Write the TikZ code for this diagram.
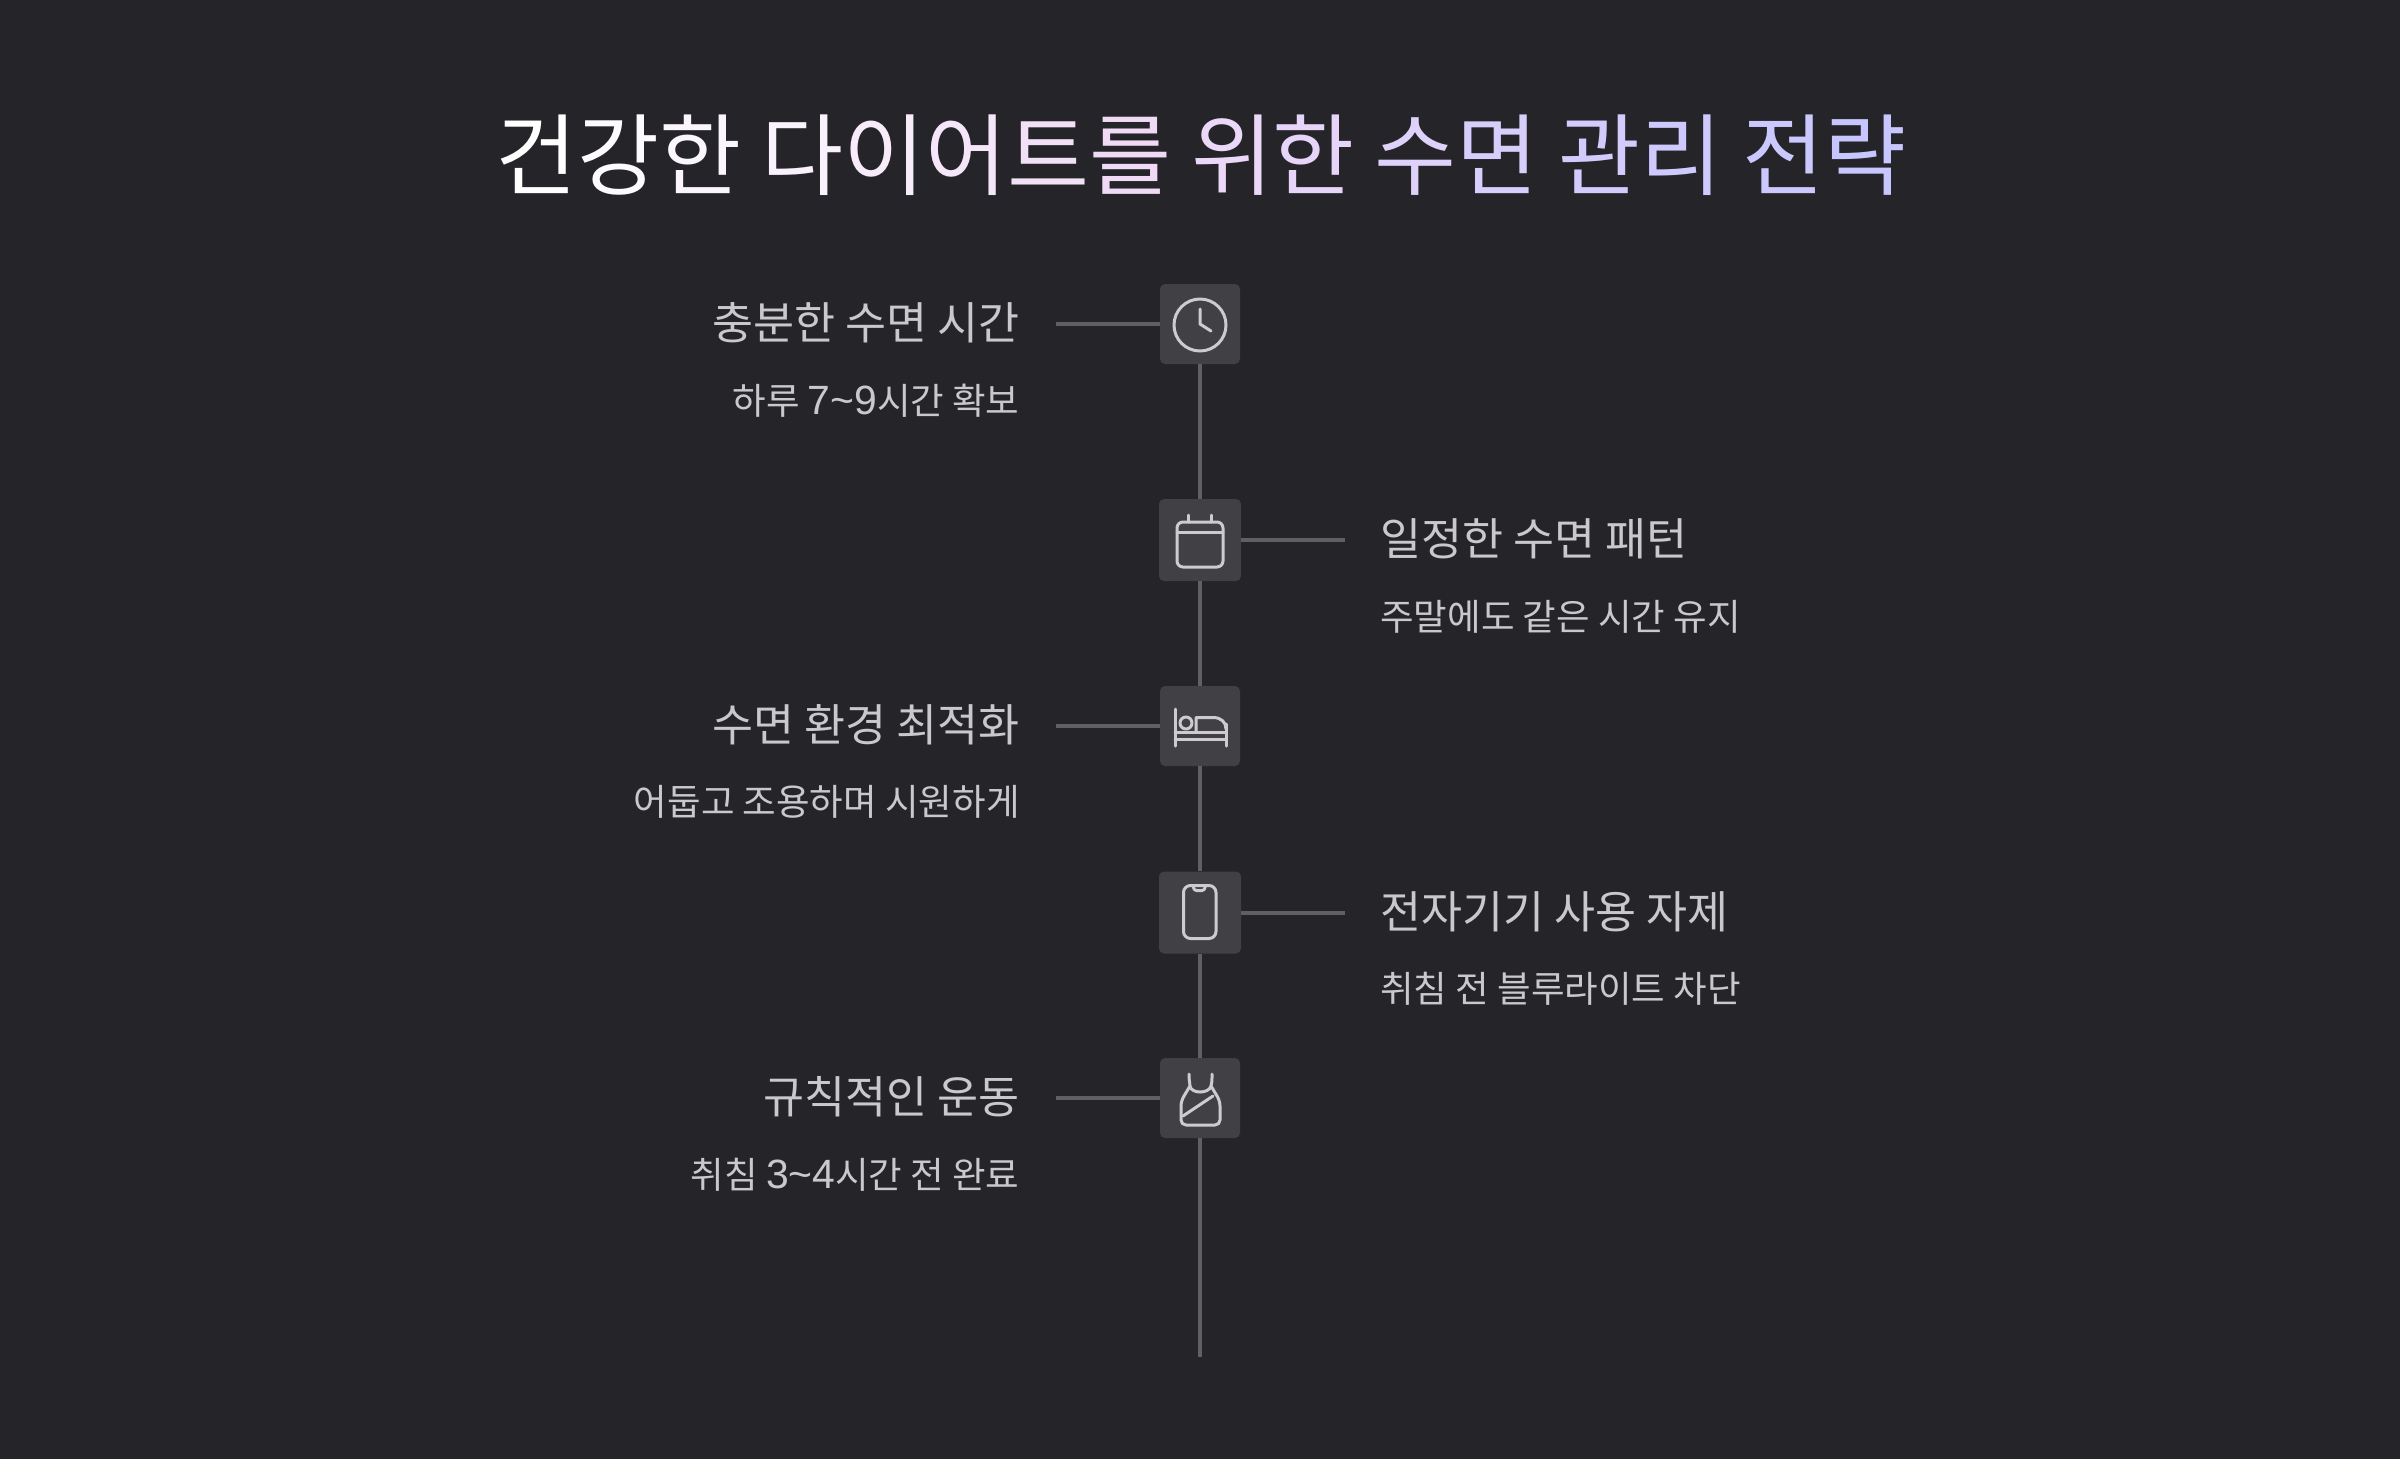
\documentclass[tikz,border=0pt]{standalone}
\usepackage{fontspec}
\setmainfont{Noto Sans CJK KR}
\newfontfamily\digitfont[Scale=1.12]{Liberation Sans}
\usepackage{xcolor}
\definecolor{bgc}{HTML}{242429}
\definecolor{boxc}{HTML}{404045}
\definecolor{linec}{HTML}{606064}
\definecolor{iconc}{HTML}{CBCBD0}
\definecolor{textc}{HTML}{C9C9CC}
\definecolor{gA}{HTML}{FFFFFF}
\definecolor{gB}{HTML}{F0DAF6}
\definecolor{gC}{HTML}{C8C6FF}
\newcommand{\tA}[2]{\textcolor{gB!#1!gA}{#2}}
\newcommand{\tB}[2]{\textcolor{gC!#1!gB}{#2}}
\newcommand{\dg}[1]{{\digitfont #1}}
\tikzset{
  iconbox/.style={fill=boxc,rounded corners=2.5pt,minimum size=40pt,inner sep=0pt,draw=none},
  wideicon/.style={iconbox,minimum size=41pt},
  link/.style={draw=linec,line width=2pt},
  icon/.style={draw=iconc,line width=1.5pt,line cap=round,line join=round},
  head/.style={text=textc,font=\fontsize{22.3}{22.3}\selectfont,inner sep=0pt},
  sub/.style={text=textc,font=\fontsize{18.25}{18.25}\selectfont,inner sep=0pt},
}
\begin{document}
\begin{tikzpicture}[x=0.5pt,y=-0.5pt]
\useasboundingbox (0,0) rectangle (2400,1458);
\fill[bgc] (-10,-10) rectangle (2410,1468);
\node[anchor=base,inner sep=0pt,font=\fontsize{44.55}{44.55}\selectfont] (title) at (1201,188) {\tA{0}{건}\tA{12}{강}\tA{24}{한} \tA{38}{다}\tA{50}{이}\tA{65}{어}\tA{85}{트}\tA{100}{를} \tB{12}{위}\tB{25}{한} \tB{45}{수}\tB{60}{면} \tB{72}{관}\tB{82}{리} \tB{92}{전}\tB{100}{략}};
\node[iconbox] (b1) at (1200,324) {};
\node[wideicon] (b2) at (1200,540) {};
\node[iconbox] (b3) at (1200,726) {};
\node[wideicon] (b4) at (1200,912.5) {};
\node[iconbox] (b5) at (1200,1098) {};
\coordinate (endb) at (1200,1357);
\coordinate (c1) at (1056,324);
\coordinate (c2) at (1345,540);
\coordinate (c3) at (1056,726);
\coordinate (c4) at (1345,912.5);
\coordinate (c5) at (1056,1098);
\draw[link] (b1) -- (b2);
\draw[link] (b2) -- (b3);
\draw[link] (b3) -- (b4);
\draw[link] (b4) -- (b5);
\draw[link] (b5) -- (endb);
\draw[link] (b1.west) -- (c1);
\draw[link] (b2.east) -- (c2);
\draw[link] (b3.west) -- (c3);
\draw[link] (b4.east) -- (c4);
\draw[link] (b5.west) -- (c5);
% icons
\begin{scope}[shift={(b1.center)}]
\draw[icon] (0,1) circle (26);
\draw[icon] (0,-15) -- (0,0) -- (11,7);
\end{scope}
\begin{scope}[shift={(b2.center)}]
\draw[icon,rounded corners=3pt] (-23,-18) rectangle (23,27);
\draw[icon] (-23,-8) -- (23,-8);
\draw[icon] (-12,-25) -- (-12,-18);
\draw[icon] (11,-25) -- (11,-18);
\end{scope}
\begin{scope}[shift={(b3.center)}]
\draw[icon] (-25,-17) -- (-25,20);
\draw[icon] (26,-2) -- (26,20);
\draw[icon] (-25,6) -- (26,6);
\draw[icon] (-25,13) -- (26,13);
\draw[icon] (-14,-3) circle (6);
\draw[icon] (-4,6) -- (-4,-8.5) -- (13,-8.5) .. controls (21,-8.5) and (26,-4) .. (26,3);
\end{scope}
\begin{scope}[shift={(b4.center)}]
\draw[icon,rounded corners=3.5pt] (-16.5,-27) rectangle (16,26);
\draw[icon,rounded corners=1.5pt] (-6.5,-26.5) -- (-6.5,-22) -- (5,-22) -- (5,-26.5);
\end{scope}
\begin{scope}[shift={(b5.center)}]
\draw[icon] (-11,-24) .. controls (-11,-16) and (-10,-16) .. (-10,-12) .. controls (-9,-4) and (9,-4) .. (11,-12) .. controls (12,-16) and (12,-16) .. (12,-24);
\draw[icon,rounded corners=2.5pt] (-10,-12) -- (-19,3) -- (-19,27) -- (20,27) -- (20,3) -- (11,-12);
\draw[icon] (-17,18) -- (13,-2);
\end{scope}
% texts
\node[head,anchor=base east] (h1) at (1020,339.5) {충분한 수면 시간};
\node[sub,anchor=base east] (s1) at (1020,414) {하루 \dg{7\textasciitilde9}시간 확보};
\node[head,anchor=base west] (h2) at (1380,555.5) {일정한 수면 패턴};
\node[sub,anchor=base west] (s2) at (1380,630) {주말에도 같은 시간 유지};
\node[head,anchor=base east] (h3) at (1020,741) {수면 환경 최적화};
\node[sub,anchor=base east] (s3) at (1020,815) {어둡고 조용하며 시원하게};
\node[head,anchor=base west] (h4) at (1380,928) {전자기기 사용 자제};
\node[sub,anchor=base west] (s4) at (1380,1002) {취침 전 블루라이트 차단};
\node[head,anchor=base east] (h5) at (1020,1113.5) {규칙적인 운동};
\node[sub,anchor=base east] (s5) at (1020,1188) {취침 \dg{3\textasciitilde4}시간 전 완료};
\end{tikzpicture}
\end{document}
